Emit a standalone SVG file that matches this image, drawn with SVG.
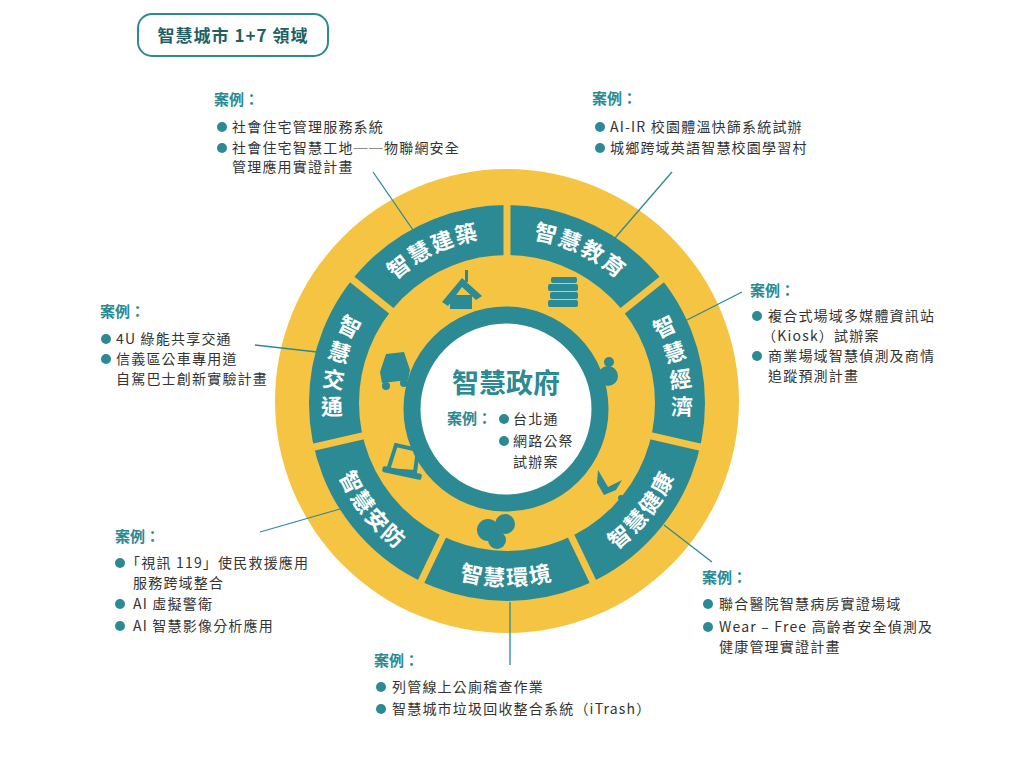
<svg xmlns="http://www.w3.org/2000/svg" width="1024" height="762" viewBox="0 0 1024 762">
<style>
.seg{font-family:"Noto Sans CJK TC","Noto Sans CJK SC",sans-serif;font-weight:bold;font-size:22px;fill:#fff}
.lab{font-family:"Noto Sans CJK TC","Noto Sans CJK SC",sans-serif;font-weight:bold;font-size:15px;fill:#2b8a93}
.it{font-family:"Noto Sans CJK TC","Noto Sans CJK SC",sans-serif;font-size:14px;fill:#333;letter-spacing:1.2px}
.b{fill:#2b8a93}
.ld{stroke:#2b8a93;stroke-width:1.3;fill:none}
.dv{stroke:#f6c443;stroke-width:7}
.ic{fill:#2b8a93}
</style>
<defs>
<path id="top" d="M341,403 A166,166 0 0 1 673,403"/>
<path id="bot" d="M324,403 A183,183 0 0 0 690,403"/>
</defs>
<rect width="1024" height="762" fill="#fff"/>
<g id="title">
<rect x="138" y="14" width="190" height="42" rx="14" fill="#fff" stroke="#2b8a93" stroke-width="2"/>
<text x="233" y="42" text-anchor="middle" font-family="Noto Sans CJK TC,sans-serif" font-weight="bold" font-size="17" letter-spacing="1" fill="#1f5f66">智慧城市 1+7 領域</text>
</g>
<g id="wheel">
<circle cx="507" cy="401" r="232" fill="#f6c443"/>
<circle cx="507" cy="403" r="173" fill="none" stroke="#2b8a93" stroke-width="50"/>
<g class="dv">
<line x1="507" y1="259" x2="507" y2="201"/>
<line x1="619.6" y1="313.2" x2="664.9" y2="277"/>
<line x1="647.4" y1="435" x2="703.9" y2="448"/>
<line x1="569.5" y1="532.7" x2="594.6" y2="585"/>
<line x1="444.5" y1="532.7" x2="419.4" y2="585"/>
<line x1="366.6" y1="435" x2="310.1" y2="448"/>
<line x1="394.4" y1="313.2" x2="349.1" y2="277"/>
</g>
<circle cx="506" cy="409" r="94" fill="#fff" stroke="#2b8a93" stroke-width="17"/>
</g>
<g id="segments">
<text class="seg"><textPath href="#top" startOffset="186" text-anchor="middle" letter-spacing="2">智慧建築</textPath></text>
<text class="seg"><textPath href="#top" startOffset="335" text-anchor="middle" letter-spacing="2">智慧教育</textPath></text>
<text class="seg"><textPath href="#bot" startOffset="123" text-anchor="middle" letter-spacing="2">智慧安防</textPath></text>
<text class="seg"><textPath href="#bot" startOffset="287" text-anchor="middle" letter-spacing="2">智慧環境</textPath></text>
<text class="seg"><textPath href="#bot" startOffset="452" text-anchor="middle" letter-spacing="2">智慧健康</textPath></text>
<g class="seg" text-anchor="middle" dominant-baseline="central">
<text x="663.7" y="325.2" transform="rotate(-26.4 663.7 325.2)">智</text>
<text x="674" y="350.7" transform="rotate(-17.4 674 350.7)">慧</text>
<text x="680.1" y="377.4" transform="rotate(-8.4 680.1 377.4)">經</text>
<text x="682" y="404.8" transform="rotate(0.6 682 404.8)">濟</text>
<text x="350.2" y="325.3" transform="rotate(26.4 350.2 325.3)">智</text>
<text x="340" y="350.8" transform="rotate(17.4 340 350.8)">慧</text>
<text x="333.9" y="377.6" transform="rotate(8.4 333.9 377.6)">交</text>
<text x="332" y="405" transform="rotate(-0.6 332 405)">通</text>
</g>
</g>
<g id="icons" class="ic">
<polygon points="442,302 462,278 482,296 476,300 462,287 448,306"/>
<rect x="450" y="295" width="22" height="14"/>
<rect x="465" y="270" width="3" height="12"/>
<rect x="548" y="300" width="30" height="7" rx="2"/>
<rect x="550" y="292" width="28" height="7" rx="2"/>
<rect x="548" y="284" width="30" height="7" rx="2"/>
<rect x="551" y="277" width="26" height="6" rx="2"/>
<circle cx="608" cy="376" r="10"/>
<circle cx="609" cy="362" r="5"/>
<path d="M598,470 L608,487 L622,480 L616,490 L604,495 L597,483 Z"/>
<circle cx="621" cy="498" r="3"/>
<circle cx="488" cy="530" r="11"/>
<circle cx="505" cy="524" r="10"/>
<circle cx="497" cy="540" r="9"/>
<path d="M388,470 L396,445 L418,450 L415,472 Z" fill="none" stroke="#2b8a93" stroke-width="4"/>
<rect x="382" y="470" width="40" height="6" rx="2" transform="rotate(12 402 473)"/>
<path d="M380,372 L386,354 L404,352 L410,370 L408,380 L382,383 Z"/>
<circle cx="386" cy="386" r="4"/>
<circle cx="404" cy="383" r="4"/>
</g>
<g id="center" text-anchor="start">
<text x="506" y="393" text-anchor="middle" font-family="Noto Sans CJK TC,sans-serif" font-weight="bold" font-size="27" fill="#2b8a93">智慧政府</text>
<text class="lab" x="447" y="424">案例：</text>
<circle class="b" cx="504" cy="419" r="5"/>
<text class="it" x="513" y="424">台北通</text>
<circle class="b" cx="504" cy="441" r="5"/>
<text class="it" x="513" y="446">網路公祭</text>
<text class="it" x="513" y="467">試辦案</text>
</g>
<g id="connectors" class="ld">
<line x1="373" y1="172" x2="413" y2="230"/>
<line x1="672" y1="172" x2="615" y2="238"/>
<line x1="742" y1="292" x2="687" y2="320"/>
<line x1="255" y1="345" x2="317" y2="352"/>
<line x1="260" y1="532" x2="340" y2="509"/>
<line x1="664" y1="525" x2="712" y2="562"/>
<line x1="510" y1="602" x2="510" y2="665"/>
</g>
<g id="case-building">
<text class="lab" x="214" y="105">案例：</text>
<circle class="b" cx="222" cy="127" r="5"/><text class="it" x="232" y="132">社會住宅管理服務系統</text>
<circle class="b" cx="222" cy="148" r="5"/><text class="it" x="232" y="153">社會住宅智慧工地──物聯網安全</text>
<text class="it" x="232" y="172">管理應用實證計畫</text>
</g>
<g id="case-education">
<text class="lab" x="592" y="104">案例：</text>
<circle class="b" cx="600" cy="127" r="5"/><text class="it" x="610" y="132">AI-IR 校園體溫快篩系統試辦</text>
<circle class="b" cx="600" cy="148" r="5"/><text class="it" x="610" y="153">城鄉跨域英語智慧校園學習村</text>
</g>
<g id="case-economy">
<text class="lab" x="750" y="296">案例：</text>
<circle class="b" cx="757" cy="316" r="5"/><text class="it" x="768" y="321">複合式場域多媒體資訊站</text>
<text class="it" x="762" y="341">（Kiosk）試辦案</text>
<circle class="b" cx="757" cy="356" r="5"/><text class="it" x="768" y="361">商業場域智慧偵測及商情</text>
<text class="it" x="768" y="381">追蹤預測計畫</text>
</g>
<g id="case-transport">
<text class="lab" x="100" y="317">案例：</text>
<circle class="b" cx="106" cy="339" r="5"/><text class="it" x="116" y="344">4U 綠能共享交通</text>
<circle class="b" cx="106" cy="359" r="5"/><text class="it" x="116" y="364">信義區公車專用道</text>
<text class="it" x="116" y="384">自駕巴士創新實驗計畫</text>
</g>
<g id="case-safety">
<text class="lab" x="115" y="542">案例：</text>
<circle class="b" cx="120" cy="563" r="5"/><text class="it" x="126" y="568">「視訊 119」使民救援應用</text>
<text class="it" x="133" y="588">服務跨域整合</text>
<circle class="b" cx="120" cy="604" r="5"/><text class="it" x="133" y="609">AI 虛擬警衛</text>
<circle class="b" cx="120" cy="626" r="5"/><text class="it" x="133" y="631">AI 智慧影像分析應用</text>
</g>
<g id="case-environment">
<text class="lab" x="374" y="666">案例：</text>
<circle class="b" cx="381" cy="687" r="5"/><text class="it" x="392" y="692">列管線上公廁稽查作業</text>
<circle class="b" cx="381" cy="709" r="5"/><text class="it" x="392" y="714">智慧城市垃圾回收整合系統（iTrash）</text>
</g>
<g id="case-health">
<text class="lab" x="702" y="583">案例：</text>
<circle class="b" cx="708" cy="604" r="5"/><text class="it" x="719" y="609">聯合醫院智慧病房實證場域</text>
<circle class="b" cx="708" cy="627" r="5"/><text class="it" x="719" y="632">Wear – Free 高齡者安全偵測及</text>
<text class="it" x="719" y="652">健康管理實證計畫</text>
</g>
</svg>
